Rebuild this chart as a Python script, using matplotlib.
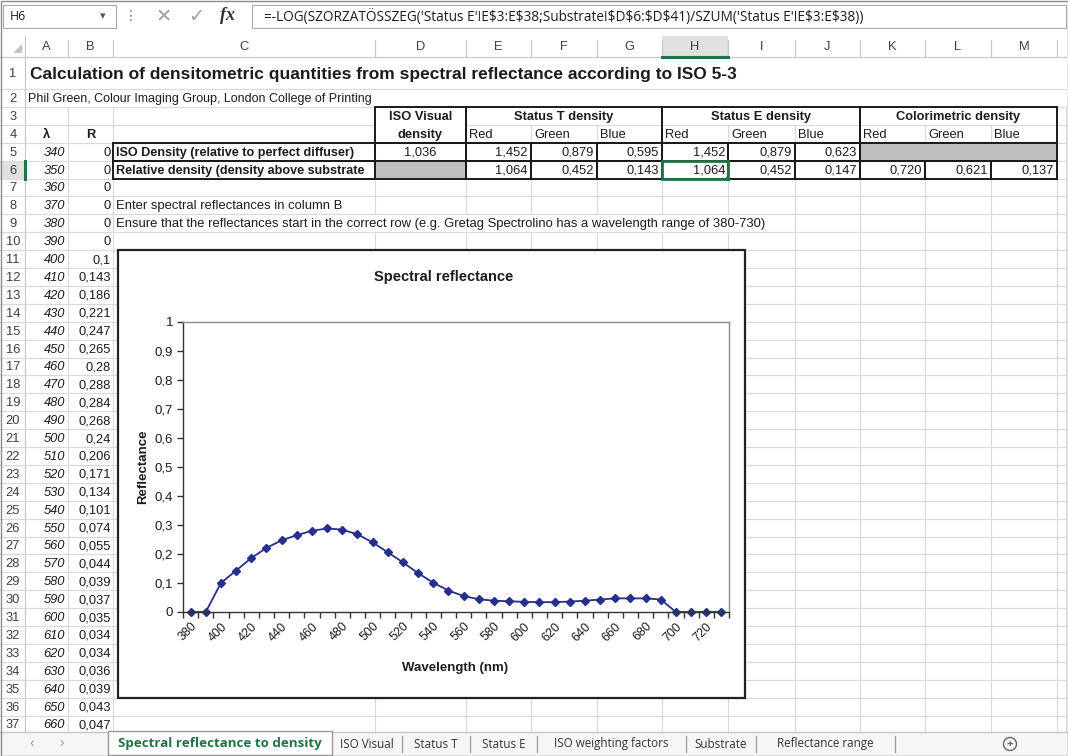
import matplotlib
matplotlib.use("Agg")
import numpy as np
import matplotlib.pyplot as plt
from matplotlib.patches import Rectangle, Polygon, Circle

wavelengths = [340, 350, 360, 370, 380, 390, 400, 410, 420, 430, 440, 450, 460, 470,
               480, 490, 500, 510, 520, 530, 540, 550, 560, 570, 580, 590, 600, 610,
               620, 630, 640, 650, 660, 670, 680, 690, 700, 710, 720, 730]
reflectance = [0, 0, 0, 0, 0, 0, 0.1, 0.143, 0.186, 0.221, 0.247, 0.265, 0.28, 0.288,
               0.284, 0.268, 0.24, 0.206, 0.171, 0.134, 0.101, 0.074, 0.055, 0.044,
               0.039, 0.037, 0.035, 0.034, 0.034, 0.036, 0.039, 0.043, 0.047, 0.047,
               0.047, 0.043, 0, 0, 0, 0]
chart_start = 380      # chart uses the 380-730 part
sheet_rows_shown = 33  # rows 5..37 visible in the screenshot

density_rows = ["ISO Density (relative to perfect diffuser)",
                "Relative density (density above substrate"]
iso_visual = [1.036, None]
status_t = [[1.452, 0.879, 0.595], [1.064, 0.452, 0.143]]
status_e = [[1.452, 0.879, 0.623], [1.064, 0.452, 0.147]]
colorimetric = [None, [0.720, 0.621, 0.137]]
channels = ["Red", "Green", "Blue"]
group_titles = ["Status T density", "Status E density", "Colorimetric density"]

col_letters = ["A", "B", "C", "D", "E", "F", "G", "H", "I", "J", "K", "L", "M"]
sheet_tabs = ["Spectral reflectance to density", "ISO Visual", "Status T", "Status E",
              "ISO weighting factors", "Substrate", "Reflectance range"]
formula = "=-LOG(SZORZATÖSSZEG('Status E'!E$3:E$38;Substrate!$D$6:$D$41)/SZUM('Status E'!E$3:E$38))"
title1 = "Calculation of densitometric quantities from spectral reflectance according to ISO 5-3"
title2 = "Phil Green, Colour Imaging Group, London College of Printing"
note1 = "Enter spectral reflectances in column B"
note2 = ("Ensure that the reflectances start in the correct row "
         "(e.g. Gretag Spectrolino has a wavelength range of 380-730)")


def hu(v, dec=None):
    # hungarian excel -> decimal comma
    s = f"{v:.{dec}f}" if dec else f"{v:g}"
    return s.replace(".", ",")


CELL = ["Liberation Sans", "DejaVu Sans"]
UI = ["Open Sans", "DejaVu Sans"]
SYM = ["DejaVu Sans"]
TXT = "#1c1c1c"
GRID = "#d9d9d9"
HDR = "#c8c8c8"
GREEN = "#217346"
FS = 9.3

fig = plt.figure(figsize=(10.68, 7.56), dpi=100)
sh = fig.add_axes([0, 0, 1, 1])
sh.set_xlim(0, 1068)
sh.set_ylim(756, 0)
sh.axis("off")

# layout of the grid in screen pixels
edges = [25, 68, 113, 375, 466, 531, 597, 662, 728, 795, 860, 925, 991, 1057]
RH = 17.9


def rtop(r):
    return 57 if r == 1 else 89 + (r - 2) * RH


def rbot(r):
    return rtop(r + 1)


def rmid(r):
    return (rtop(r) + rbot(r)) / 2


def box(x0, y0, x1, y1, lw=1.4, ec="#1a1a1a", fc="none", z=3):
    sh.add_patch(Rectangle((x0, y0), x1 - x0, y1 - y0, lw=lw, ec=ec, fc=fc, zorder=z))


# ---- formula bar ---------------------------------------------------------
box(3, 5, 116, 28, lw=0.8, ec="#ababab", fc="white")
sh.text(10, 16.5, "H6", family=UI, fontsize=8.8, color=TXT, va="center")
sh.text(103, 16, "▾", family=SYM, fontsize=8, color="#555555", va="center", ha="center")
sh.text(131, 16, "⋮", family=SYM, fontsize=10, color="#777777", va="center", ha="center")
sh.text(164, 16.5, "✕", family=SYM, fontsize=14, color="#a0a0a0", va="center", ha="center")
sh.text(196, 16.5, "✓", family=SYM, fontsize=14, color="#a0a0a0", va="center", ha="center")
sh.text(228, 16, "fx", family=["Liberation Serif"], style="italic", weight="bold",
        fontsize=13, color="#333333", va="center", ha="center")
box(252, 5, 1066, 28, lw=0.8, ec="#ababab", fc="white")
sh.text(264, 16.5, formula, family=UI, fontsize=9.8, color=TXT, va="center",
        parse_math=False)

# ---- column / row headers ------------------------------------------------
box(0, 36, 1066, 57, lw=0, ec="none", fc="white", z=1)
box(662, 36, 728, 57, lw=0, ec="none", fc="#e1e1e1", z=1)
sh.plot([0, 1066], [57, 57], color=HDR, lw=0.9, zorder=2)
sh.plot([662, 728], [56.5, 56.5], color=GREEN, lw=2.2, zorder=3)
for x in edges[1:]:
    sh.plot([x, x], [40, 57], color=HDR, lw=0.9, zorder=2)
for i, c in enumerate(col_letters):
    sh.text((edges[i] + edges[i + 1]) / 2, 47, c, family=CELL, fontsize=9.3,
            color="#404040", ha="center", va="center")
sh.add_patch(Polygon([[13, 53], [22, 53], [22, 44]], closed=True, fc="#c4c4c4", ec="none"))

box(0, rtop(6), 25, rbot(6), lw=0, ec="none", fc="#e1e1e1", z=1)
sh.plot([24.5, 24.5], [rtop(6), rbot(6)], color=GREEN, lw=2.2, zorder=3)
sh.plot([25, 25], [36, 732], color=HDR, lw=0.9, zorder=2)
for r in range(1, 38):
    sh.text(13, rmid(r) + 1, str(r), family=CELL, fontsize=9.3, color="#404040",
            ha="center", va="center")


# ---- gridlines -----------------------------------------------------------
def hidden(r, x):
    if r <= 2:
        return True          # title rows - text runs over the cells
    if r == 9 and 375 <= x <= 728:
        return True          # long note overflows
    if r == 3 and 466 < x < 1057:
        return True          # merged group titles
    return False


for r in range(1, 38):
    sh.plot([0, 1066], [rbot(r), rbot(r)], color=GRID, lw=0.8, zorder=1)
for x in edges[1:] + [1066]:
    for r in range(1, 38):
        if not hidden(r, x):
            sh.plot([x, x], [rtop(r), rbot(r)], color=GRID, lw=0.8, zorder=1)

# ---- texts in cells --------------------------------------------------------
sh.text(30, rmid(1) + 1, title1, family=CELL, fontsize=12.5, weight="bold", color=TXT,
        va="center")
sh.text(28, rmid(2) + 1, title2, family=CELL, fontsize=9, color=TXT, va="center")
sh.text(46.5, rmid(4) + 1, "λ", family=CELL, fontsize=FS, weight="bold", color=TXT,
        ha="center", va="center")
sh.text(90.5, rmid(4) + 1, "R", family=CELL, fontsize=FS, weight="bold", color=TXT,
        ha="center", va="center")

for k in range(sheet_rows_shown):
    r = 5 + k
    sh.text(65, rmid(r) + 1, str(wavelengths[k]), family=CELL, fontsize=FS, style="italic",
            color=TXT, ha="right", va="center")
    sh.text(111, rmid(r) + 1, hu(reflectance[k]), family=CELL, fontsize=FS,
            color=TXT, ha="right", va="center")

sh.text(116, rmid(8) + 1, note1, family=CELL, fontsize=9.4, color=TXT, va="center")
sh.text(116, rmid(9) + 1, note2, family=CELL, fontsize=9.4, color=TXT, va="center")

# header block
box(375, rtop(3), 466, rbot(4), fc="white", z=2)
sh.text(420.5, rmid(3) + 1, "ISO Visual", family=CELL, fontsize=FS, weight="bold",
        color=TXT, ha="center", va="center", zorder=4)
sh.text(420.5, rmid(4) + 1, "density", family=CELL, fontsize=FS, weight="bold",
        color=TXT, ha="center", va="center", zorder=4)
for g in range(3):
    x0, x1 = edges[4 + 3 * g], edges[7 + 3 * g]
    box(x0, rtop(3), x1, rbot(3), lw=0, ec="none", fc="white", z=1.5)
    box(x0, rtop(3), x1, rbot(4))
    sh.text((x0 + x1) / 2, rmid(3) + 1, group_titles[g], family=CELL, fontsize=FS,
            weight="bold", color=TXT, ha="center", va="center", zorder=4)
    for j in range(3):
        sh.text(edges[4 + 3 * g + j] + 3, rmid(4) + 1, channels[j], family=CELL,
                fontsize=FS, color=TXT, va="center", zorder=4)

# density rows
for i in range(2):
    r = 5 + i
    box(113, rtop(r), 375, rbot(r))
    sh.text(116, rmid(r) + 1, density_rows[i], family=CELL, fontsize=9.1, weight="bold",
            color=TXT, va="center", zorder=4)
    if iso_visual[i] is None:
        box(375, rtop(r), 466, rbot(r), fc="#bfbfbf")
    else:
        box(375, rtop(r), 466, rbot(r))
        sh.text(420.5, rmid(r) + 1, hu(iso_visual[i], 3), family=CELL, fontsize=FS,
                color=TXT, ha="center", va="center", zorder=4)
    vals = status_t[i] + status_e[i]
    if colorimetric[i] is None:
        box(860, rtop(r), 1057, rbot(r), fc="#bfbfbf")
    else:
        vals = vals + colorimetric[i]
    for j, v in enumerate(vals):
        x0, x1 = edges[4 + j], edges[5 + j]
        box(x0, rtop(r), x1, rbot(r))
        sh.text(x1 - 3, rmid(r) + 1, hu(v, 3), family=CELL, fontsize=FS, color=TXT,
                ha="right", va="center", zorder=4)

# selected cell H6
box(662, rtop(6), 728, rbot(6), lw=2, ec=GREEN, z=4)
box(726, rbot(6) - 2, 730, rbot(6) + 2, lw=0, ec="none", fc=GREEN, z=4)

# ---- sheet tabs ----------------------------------------------------------
box(0, 732, 1068, 756, lw=0, ec="none", fc="#f6f6f6", z=6)
sh.plot([0, 1068], [732, 732], color="#c6c6c6", lw=1, zorder=7)
sh.text(32, 744, "‹", family=UI, fontsize=11, color="#9a9a9a", ha="center", va="center", zorder=7)
sh.text(62, 744, "›", family=UI, fontsize=11, color="#9a9a9a", ha="center", va="center", zorder=7)
tab_edges = [108, 332, 402, 470, 537, 686, 756, 895]
box(108, 731, 332, 755, lw=1, ec="#9a9a9a", fc="white", z=7)
for i, t in enumerate(sheet_tabs):
    xc = (tab_edges[i] + tab_edges[i + 1]) / 2
    if i == 0:
        sh.text(xc, 744, t, family=UI, fontsize=9.6, weight="bold", color=GREEN,
                ha="center", va="center", zorder=8)
    else:
        sh.text(xc, 744, t, family=UI, fontsize=8.4, color="#333333",
                ha="center", va="center", zorder=8)
        sh.plot([tab_edges[i + 1]] * 2, [736, 752], color="#9a9a9a", lw=0.9, zorder=8)
sh.add_patch(Circle((1010, 744), 6.5, fc="none", ec="#666666", lw=1, zorder=8))
sh.text(1010, 744, "+", family=UI, fontsize=8, weight="bold", color="#666666",
        ha="center", va="center", zorder=8)

# ---- embedded chart ------------------------------------------------------
box(118, 250, 745, 698, lw=1.6, ec="#222222", fc="white", z=5)
sh.text(444, 277, "Spectral reflectance", family=CELL, fontsize=10.5, weight="bold",
        color=TXT, ha="center", va="center", zorder=6)
sh.text(455, 668, "Wavelength (nm)", family=CELL, fontsize=9.5, weight="bold",
        color=TXT, ha="center", va="center", zorder=6)
sh.text(143, 467, "Reflectance", family=CELL, fontsize=9.5, weight="bold", rotation=90,
        color=TXT, ha="center", va="center", zorder=6)

k0 = wavelengths.index(chart_start)
chart_wl = wavelengths[k0:]
chart_r = reflectance[k0:]
pos = np.arange(len(chart_wl))

ax = fig.add_axes([183 / 1068, 1 - 612 / 756, 546 / 1068, 290 / 756])
ax.set_zorder(10)
ax.set_facecolor("white")
ax.plot(pos, chart_r, color="#262f8c", lw=1.3, marker="D", ms=4.2,
        mfc="#262f8c", mec="#262f8c", clip_on=False)
ax.set_xlim(-0.5, len(chart_wl) - 0.5)
ax.set_ylim(0, 1)

yt = np.round(np.arange(0, 1.01, 0.1), 1)
ax.set_yticks(yt)
ax.set_yticklabels([hu(v) for v in yt], family=CELL, fontsize=9.5, color=TXT)
ax.set_xticks(pos[::2])
ax.set_xticklabels([str(w) for w in chart_wl[::2]], rotation=45, ha="right", va="top",
                   rotation_mode="anchor", family=CELL, fontsize=9, color=TXT)
ax.set_xticks(np.arange(-0.5, len(chart_wl), 1), minor=True)
ax.tick_params(axis="y", length=4, width=1, color="#333333", pad=3)
ax.tick_params(axis="x", which="major", length=0, pad=6)
ax.tick_params(axis="x", which="minor", length=4, width=1, color="#333333")
for s in ax.spines.values():
    s.set_color("#8c8c8c")
    s.set_linewidth(1)
ax.spines["left"].set_color("#333333")
ax.spines["bottom"].set_color("#333333")

# window frame
box(0.5, 0.5, 1067.5, 755.5, lw=1, ec="#8a8a8a", z=9)

fig.savefig("out.png", dpi=100)
